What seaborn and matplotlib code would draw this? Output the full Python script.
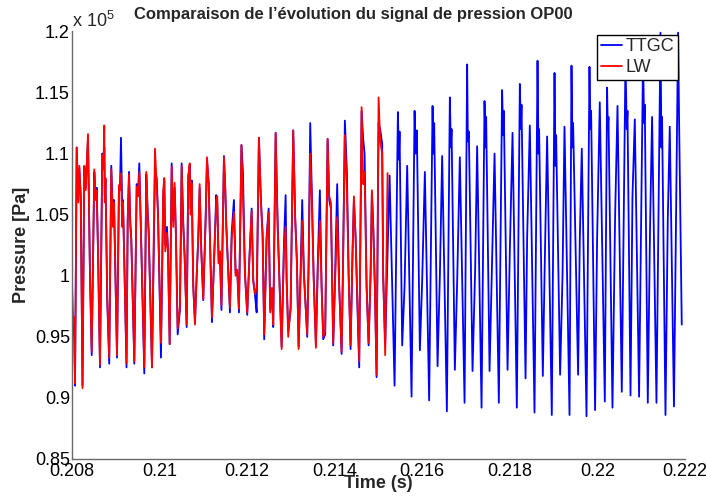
import numpy as np
import pandas as pd
import seaborn as sns
import matplotlib
matplotlib.use("Agg")
import matplotlib.pyplot as plt
from matplotlib.ticker import FuncFormatter, MultipleLocator

# pressure in units of 1e5 Pa
t_lw = [
    0.208000, 0.208030, 0.208046, 0.208069, 0.208107, 0.208144, 0.208167, 0.208199, 0.208240, 0.208281,
    0.208313, 0.208365, 0.208411, 0.208450, 0.208509, 0.208541, 0.208564, 0.208594, 0.208639, 0.208692,
    0.208715, 0.208738, 0.208749, 0.208765, 0.208806, 0.208850, 0.208897, 0.208936, 0.208959, 0.209028,
    0.209073, 0.209096, 0.209119, 0.209149, 0.209165, 0.209245, 0.209272, 0.209302, 0.209331, 0.209354,
    0.209423, 0.209478, 0.209507, 0.209537, 0.209569, 0.209651, 0.209697, 0.209729, 0.209752, 0.209827,
    0.209895, 0.209934, 0.209964, 0.210032, 0.210085, 0.210108, 0.210131, 0.210169, 0.210192, 0.210231,
    0.210277, 0.210313, 0.210345, 0.210375, 0.210414, 0.210466, 0.210505, 0.210542, 0.210574, 0.210619,
    0.210656, 0.210688, 0.210711, 0.210734, 0.210770, 0.210809, 0.210848, 0.210884, 0.210916, 0.210953,
    0.210998, 0.211053, 0.211083, 0.211122, 0.211151, 0.211197, 0.211243, 0.211295, 0.211318, 0.211350,
    0.211380, 0.211414, 0.211471, 0.211501, 0.211524, 0.211608, 0.211647, 0.211699, 0.211738, 0.211775,
    0.211814, 0.211871, 0.211905, 0.211951, 0.212003, 0.212049, 0.212104, 0.212140, 0.212186, 0.212218,
    0.212270, 0.212316, 0.212355, 0.212391, 0.212446, 0.212492, 0.212528, 0.212567, 0.212597, 0.212652,
    0.212697, 0.212734, 0.212789, 0.212841, 0.212880, 0.212903, 0.212939, 0.212994, 0.213054, 0.213099,
    0.213138, 0.213177, 0.213223, 0.213259, 0.213298, 0.213373, 0.213405, 0.213442, 0.213481, 0.213519,
    0.213572, 0.213618, 0.213663, 0.213702, 0.213739, 0.213784, 0.213839, 0.213876, 0.213915, 0.213967,
    0.214006, 0.214058, 0.214104, 0.214159, 0.214189, 0.214234, 0.214280, 0.214319, 0.214364, 0.214410,
    0.214440, 0.214479, 0.214524, 0.214561, 0.214616, 0.214652, 0.214684, 0.214730, 0.214776, 0.214821,
    0.214851, 0.214881, 0.214919, 0.214958, 0.215004, 0.215040, 0.215086, 0.215109, 0.215155, 0.215209,
]
p_lw = [
    0.993, 0.960, 0.966, 0.912, 1.105, 1.060, 1.090, 1.065, 0.908, 1.090,
    1.070, 1.116, 1.000, 0.938, 1.087, 1.062, 1.070, 1.020, 0.927, 1.099,
    1.087, 1.123, 1.060, 1.080, 0.980, 0.933, 1.087, 1.040, 1.060, 0.935,
    1.074, 1.070, 1.084, 1.040, 1.060, 0.928, 1.045, 1.083, 1.040, 1.030,
    0.930, 1.073, 1.065, 1.085, 1.045, 0.925, 1.085, 1.050, 1.035, 0.925,
    1.104, 1.075, 1.050, 0.945, 1.070, 1.080, 1.020, 1.035, 1.020, 0.944,
    1.089, 1.040, 1.076, 1.030, 0.957, 0.975, 1.090, 1.040, 1.014, 0.960,
    1.080, 1.092, 1.050, 1.076, 0.990, 0.960, 1.000, 1.030, 1.075, 1.020,
    0.981, 1.045, 1.097, 1.075, 1.030, 0.966, 1.010, 1.060, 1.065, 1.010,
    1.020, 0.976, 1.097, 1.070, 1.040, 0.974, 1.030, 1.052, 1.000, 1.005,
    0.973, 1.107, 1.065, 1.000, 0.970, 1.010, 1.053, 0.995, 0.985, 0.990,
    1.113, 1.060, 1.030, 0.952, 1.030, 1.052, 0.970, 0.990, 0.960, 1.117,
    1.040, 1.000, 0.940, 1.020, 1.040, 0.995, 0.950, 0.975, 1.119, 1.045,
    1.010, 0.940, 1.000, 1.045, 1.000, 0.952, 1.005, 1.100, 1.060, 1.000,
    0.941, 1.010, 1.045, 0.990, 0.950, 0.955, 1.112, 1.065, 1.060, 0.945,
    0.990, 1.048, 0.990, 0.938, 1.000, 1.115, 1.070, 1.000, 0.943, 1.020,
    1.065, 1.030, 0.975, 0.930, 1.138, 1.075, 1.085, 0.990, 0.945, 1.000,
    1.070, 1.040, 0.990, 0.919, 1.146, 1.110, 1.100, 1.000, 0.935, 1.084,
]

# TTGC shares the LW sample times up to 0.21516 s, then runs on alone
p_ttgc_head = [
    0.950, 0.955, 0.962, 0.910, 1.105, 1.062, 1.088, 1.066, 0.910, 1.088,
    1.072, 1.112, 1.000, 0.935, 1.085, 1.064, 1.072, 1.020, 0.925, 1.100,
    1.090, 1.105, 1.066, 1.078, 0.978, 0.928, 1.090, 1.045, 1.062, 0.933,
    1.074, 1.072, 1.113, 1.050, 1.062, 0.925, 1.045, 1.085, 1.045, 1.030,
    0.928, 1.075, 1.066, 1.092, 1.045, 0.920, 1.083, 1.052, 1.036, 0.925,
    1.085, 1.080, 1.052, 0.933, 1.066, 1.078, 1.025, 1.040, 1.022, 0.944,
    1.092, 1.045, 1.072, 1.032, 0.952, 0.972, 1.092, 1.042, 1.016, 0.958,
    1.082, 1.090, 1.055, 1.078, 0.992, 0.962, 1.000, 1.030, 1.072, 1.022,
    0.980, 1.048, 1.095, 1.076, 1.032, 0.962, 1.012, 1.066, 1.060, 1.012,
    1.015, 0.972, 1.098, 1.072, 1.042, 0.970, 1.035, 1.062, 1.002, 1.004,
    0.970, 1.107, 1.085, 1.003, 0.968, 1.012, 1.055, 0.997, 0.982, 0.970,
    1.113, 1.062, 1.035, 0.948, 1.032, 1.055, 0.972, 0.988, 0.958, 1.117,
    1.045, 1.002, 0.942, 1.025, 1.066, 0.998, 0.955, 0.972, 1.119, 1.048,
    1.012, 0.942, 1.005, 1.062, 1.003, 0.950, 1.010, 1.125, 1.065, 1.002,
    0.943, 1.015, 1.070, 0.992, 0.948, 0.952, 1.112, 1.062, 1.055, 0.943,
    0.995, 1.075, 0.992, 0.936, 1.005, 1.127, 1.085, 1.003, 0.940, 1.022,
    1.062, 1.032, 0.970, 0.925, 1.135, 1.112, 1.100, 0.992, 0.943, 1.002,
    1.068, 1.042, 0.992, 0.917, 1.125, 1.120, 1.108, 1.000, 0.944,
]
t_ttgc_tail = [
    0.215255, 0.215369, 0.215445, 0.215467, 0.215483, 0.215543, 0.215598, 0.215657, 0.215757, 0.215826,
    0.215849, 0.215878, 0.215947, 0.215999, 0.216061, 0.216159, 0.216237, 0.216255, 0.216274, 0.216351,
    0.216404, 0.216456, 0.216564, 0.216632, 0.216655, 0.216671, 0.216746, 0.216799, 0.216860, 0.216968,
    0.217027, 0.217043, 0.217066, 0.217150, 0.217210, 0.217255, 0.217356, 0.217424, 0.217447, 0.217461,
    0.217539, 0.217598, 0.217653, 0.217751, 0.217826, 0.217849, 0.217865, 0.217950, 0.218002, 0.218064,
    0.218162, 0.218231, 0.218253, 0.218269, 0.218361, 0.218397, 0.218459, 0.218566, 0.218635, 0.218658,
    0.218671, 0.218756, 0.218795, 0.218854, 0.218961, 0.219023, 0.219046, 0.219060, 0.219151, 0.219206,
    0.219251, 0.219366, 0.219411, 0.219434, 0.219448, 0.219562, 0.219601, 0.219646, 0.219754, 0.219822,
    0.219841, 0.219859, 0.219950, 0.219996, 0.220057, 0.220172, 0.220224, 0.220240, 0.220256, 0.220347,
    0.220407, 0.220462, 0.220560, 0.220644, 0.220674, 0.220690, 0.220759, 0.220804, 0.220857, 0.220955,
    0.221046, 0.221069, 0.221085, 0.221154, 0.221206, 0.221252, 0.221352, 0.221444, 0.221466, 0.221480,
    0.221558, 0.221610, 0.221656, 0.221752, 0.221846, 0.221868, 0.221930,
]
p_ttgc_tail = [
    1.082, 0.910, 1.134, 1.095, 1.118, 0.943, 0.992, 1.090, 0.901, 1.135,
    1.100, 1.119, 0.939, 0.995, 1.085, 0.898, 1.139, 1.100, 1.125, 0.926,
    1.000, 1.098, 0.889, 1.146, 1.105, 1.120, 0.923, 0.995, 1.097, 0.896,
    1.173, 1.110, 1.118, 0.922, 1.005, 1.106, 0.892, 1.143, 1.105, 1.130,
    0.922, 1.014, 1.100, 0.896, 1.152, 1.115, 1.135, 0.923, 1.020, 1.117,
    0.892, 1.157, 1.120, 1.140, 0.916, 1.030, 1.123, 0.888, 1.176, 1.100,
    1.120, 0.918, 1.000, 1.114, 0.886, 1.166, 1.090, 1.115, 0.919, 1.000,
    1.122, 0.886, 1.172, 1.105, 1.125, 0.919, 1.030, 1.104, 0.885, 1.171,
    1.120, 1.135, 0.890, 1.030, 1.142, 0.897, 1.154, 1.120, 1.130, 0.892,
    1.048, 1.139, 0.905, 1.175, 1.120, 1.135, 0.902, 1.065, 1.128, 0.901,
    1.180, 1.125, 1.140, 0.896, 1.040, 1.130, 0.896, 1.199, 1.105, 1.130,
    0.886, 1.045, 1.122, 0.893, 1.199, 1.130, 0.960,
]

t_ttgc = t_lw[:len(p_ttgc_head)] + t_ttgc_tail
p_ttgc = p_ttgc_head + p_ttgc_tail

df = pd.concat([
    pd.DataFrame({"time": t_ttgc, "pressure": p_ttgc, "case": "TTGC"}),
    pd.DataFrame({"time": t_lw, "pressure": p_lw, "case": "LW"}),
], ignore_index=True)

sns.set_style("white")
plt.rcParams["font.family"] = ["Liberation Sans", "DejaVu Sans"]
plt.rcParams["mathtext.default"] = "regular"

fig = plt.figure(figsize=(7.06, 5.03), dpi=100)
ax = fig.add_axes([0.102, 0.0875, 0.868, 0.850])

sns.lineplot(data=df, x="time", y="pressure", hue="case", hue_order=["TTGC", "LW"],
             palette={"TTGC": "#0000ff", "LW": "#ff0000"}, estimator=None, sort=False,
             linewidth=1.3, ax=ax)

ax.set_xlim(0.208, 0.222)
ax.set_ylim(0.85, 1.2)
ax.xaxis.set_major_locator(MultipleLocator(0.002))
ax.yaxis.set_major_locator(MultipleLocator(0.05))
fmt = FuncFormatter(lambda v, pos: "%g" % round(v, 4))
ax.xaxis.set_major_formatter(fmt)
ax.yaxis.set_major_formatter(fmt)

grey = "#6a6a6a"
for side in ["top", "right"]:
    ax.spines[side].set_visible(False)
for side in ["left", "bottom"]:
    ax.spines[side].set_color(grey)
    ax.spines[side].set_linewidth(1.0)
ax.tick_params(direction="in", length=5, width=0.9, color=grey, labelcolor="black",
               labelsize=13)
ax.tick_params(axis="y", pad=1.5)
ax.tick_params(axis="x", pad=3)

ax.set_xlabel("Time (s)", fontsize=13, fontweight="bold")
ax.set_ylabel("Pressure [Pa]", fontsize=13, fontweight="bold")
ax.xaxis.set_label_coords(0.5, -0.038)
ax.yaxis.set_label_coords(-0.068, 0.5)

ax.text(0.0, 1.0105, "x 10$^{5}$", transform=ax.transAxes, ha="left", va="baseline",
        fontsize=13)
fig.text(0.5, 0.962, "Comparaison de l\u2019\u00e9volution du signal de pression OP00",
         ha="center", va="baseline", fontsize=12, fontweight="bold")

handles, labels = ax.get_legend_handles_labels()
leg = ax.legend(handles, labels, loc="upper right", bbox_to_anchor=(0.989, 0.992),
                borderaxespad=0, fontsize=13, frameon=True, fancybox=False,
                edgecolor="black", framealpha=1, handlelength=1.2, handletextpad=0.2,
                labelspacing=0.2, borderpad=0.2)
leg.get_frame().set_linewidth(1.0)

fig.savefig("out.png", dpi=100)
